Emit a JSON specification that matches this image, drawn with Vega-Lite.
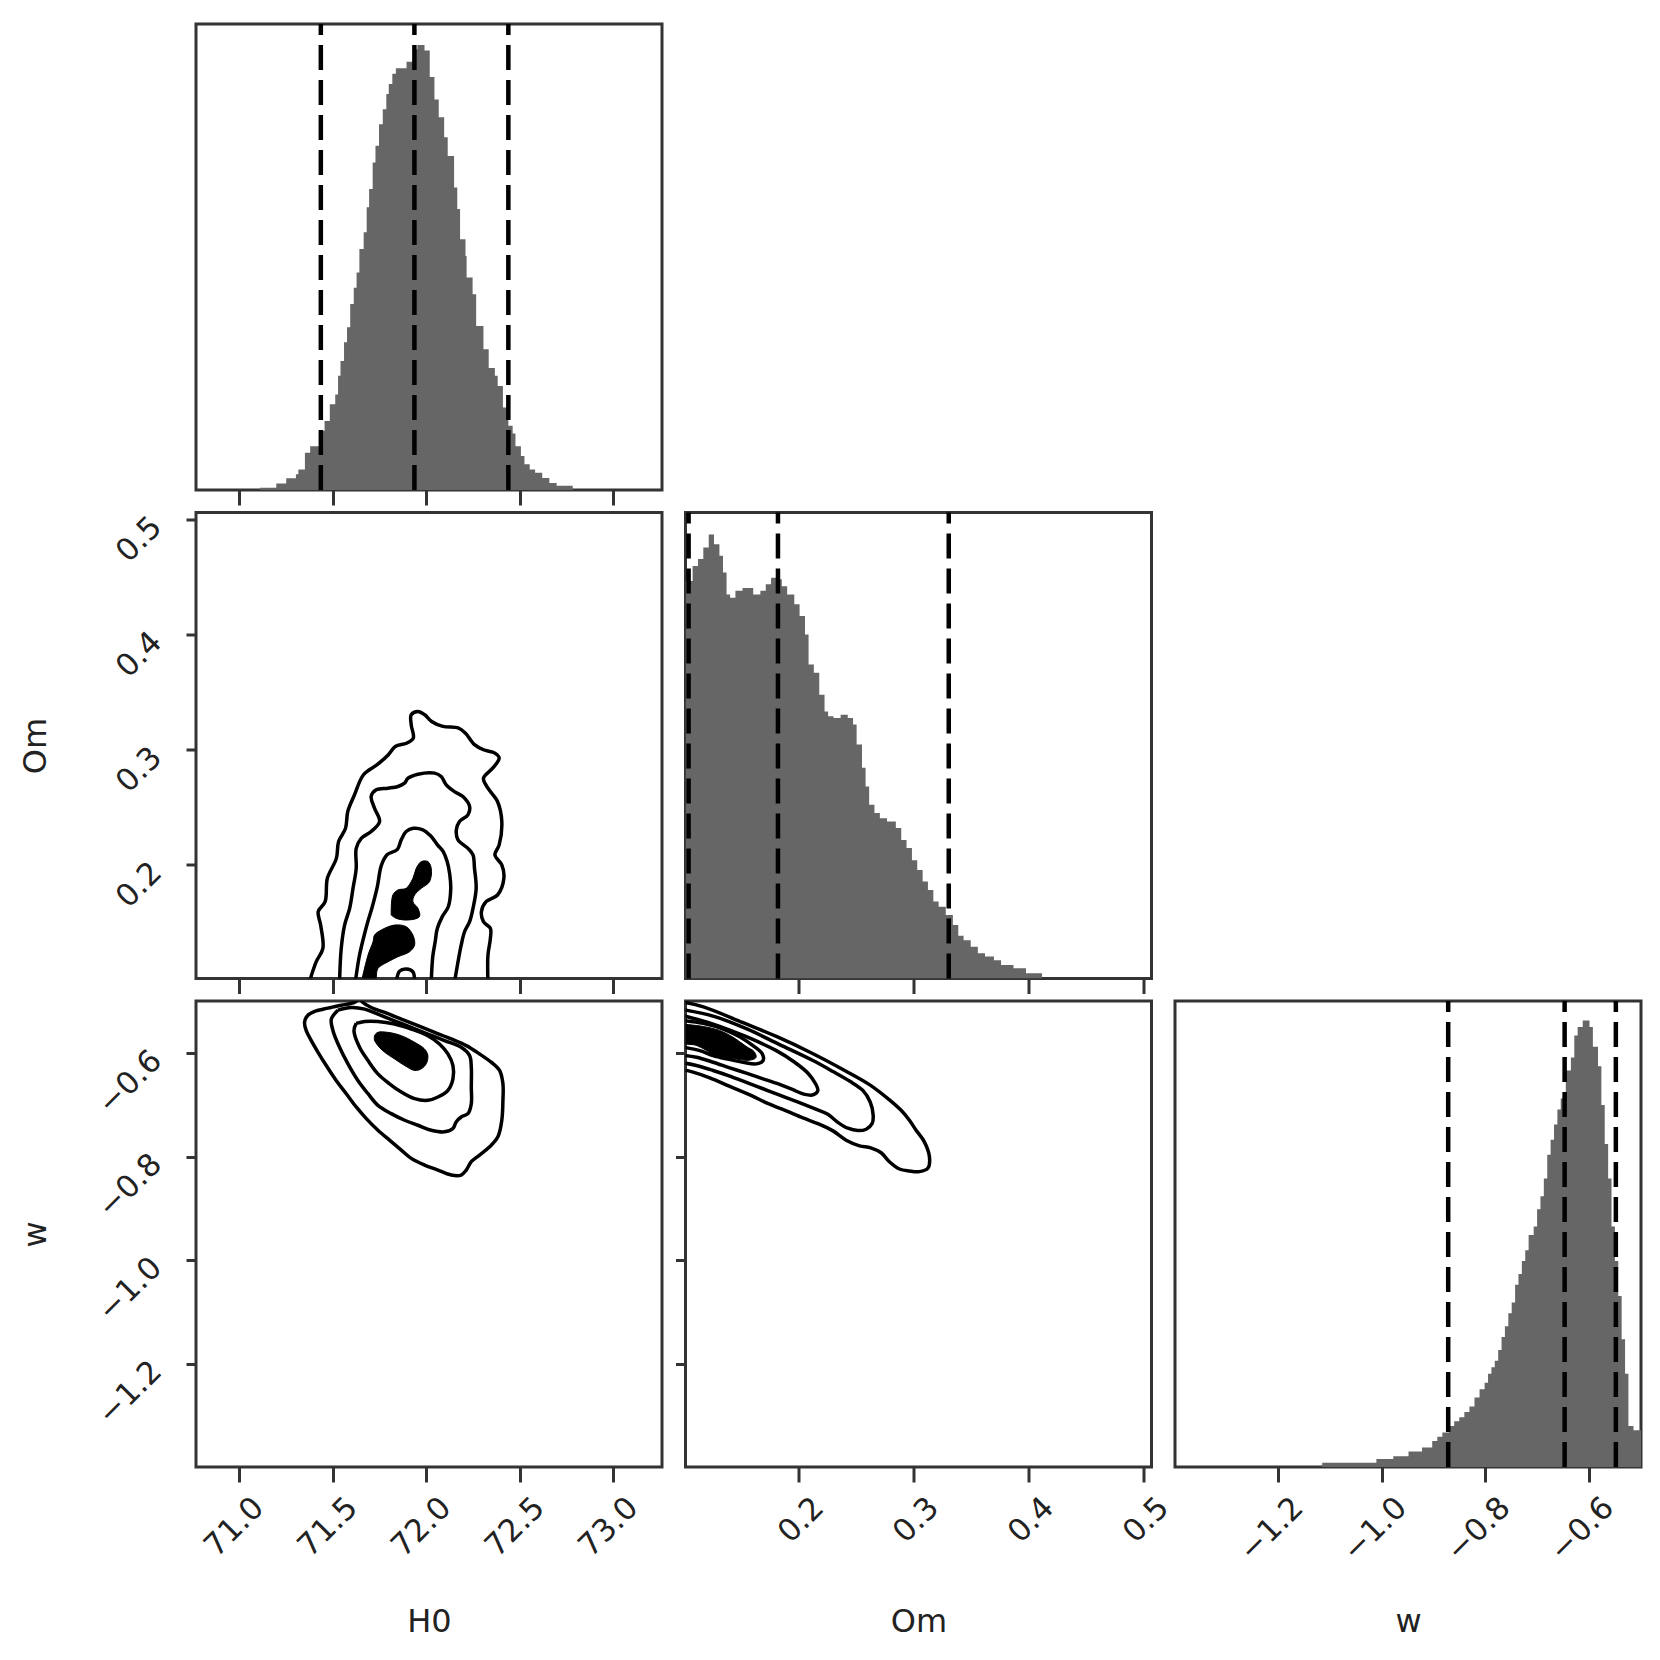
{
  "$schema": "https://vega.github.io/schema/vega-lite/v6.json",
  "padding": {"left": 17, "top": 20, "right": 5, "bottom": 5},
  "background": "white",
  "columns": 3,
  "spacing": {"row": 22.5, "column": 23.5},
  "bounds": "flush",
  "config": {
    "view": {"stroke": "#333", "strokeWidth": 3},
    "axis": {"grid": false, "domain": false, "tickColor": "#333", "tickWidth": 3, "labelFont": "DejaVu Sans", "labelFontSize": 31, "labelColor": "#222", "titleFont": "DejaVu Sans", "titleFontSize": 32, "titleColor": "#222", "titleFontWeight": "normal"}
  },
  "datasets": {
    "h0hist": [
      {"x":71.113,"h":0.005},{"x":71.199,"h":0.014},{"x":71.252,"h":0.025},{"x":71.304,"h":0.034},{"x":71.317,"h":0.044},{"x":71.352,"h":0.080},{"x":71.380,"h":0.094},{"x":71.428,"h":0.127},{"x":71.457,"h":0.148},{"x":71.485,"h":0.184},{"x":71.514,"h":0.205},{"x":71.529,"h":0.245},{"x":71.542,"h":0.277},{"x":71.561,"h":0.317},{"x":71.577,"h":0.349},{"x":71.594,"h":0.399},{"x":71.613,"h":0.434},{"x":71.628,"h":0.467},{"x":71.643,"h":0.517},{"x":71.666,"h":0.553},{"x":71.682,"h":0.607},{"x":71.695,"h":0.646},{"x":71.714,"h":0.703},{"x":71.729,"h":0.739},{"x":71.748,"h":0.785},{"x":71.768,"h":0.817},{"x":71.787,"h":0.850},{"x":71.800,"h":0.871},{"x":71.819,"h":0.893},{"x":71.838,"h":0.905},{"x":71.895,"h":0.919},{"x":71.934,"h":0.946},{"x":71.953,"h":0.955},{"x":71.991,"h":0.943},{"x":72.019,"h":0.886},{"x":72.044,"h":0.838},{"x":72.067,"h":0.800},{"x":72.096,"h":0.757},{"x":72.115,"h":0.717},{"x":72.149,"h":0.649},{"x":72.166,"h":0.603},{"x":72.181,"h":0.538},{"x":72.210,"h":0.502},{"x":72.216,"h":0.456},{"x":72.248,"h":0.420},{"x":72.267,"h":0.352},{"x":72.306,"h":0.302},{"x":72.334,"h":0.262},{"x":72.367,"h":0.245},{"x":72.382,"h":0.223},{"x":72.410,"h":0.177},{"x":72.439,"h":0.138},{"x":72.462,"h":0.121},{"x":72.477,"h":0.094},{"x":72.506,"h":0.073},{"x":72.525,"h":0.055},{"x":72.553,"h":0.044},{"x":72.582,"h":0.037},{"x":72.620,"h":0.026},{"x":72.658,"h":0.015},{"x":72.697,"h":0.009},{"x":72.783,"h":0}
    ],
    "h0q": [{"x":71.437},{"x":71.937},{"x":72.439}],
    "omhist": [
      {"x":0.1014,"h":0.853},{"x":0.1076,"h":0.885},{"x":0.1123,"h":0.900},{"x":0.1169,"h":0.925},{"x":0.1216,"h":0.953},{"x":0.1262,"h":0.932},{"x":0.1309,"h":0.907},{"x":0.1340,"h":0.871},{"x":0.1371,"h":0.824},{"x":0.1402,"h":0.817},{"x":0.1448,"h":0.832},{"x":0.1510,"h":0.838},{"x":0.1603,"h":0.824},{"x":0.1665,"h":0.832},{"x":0.1712,"h":0.846},{"x":0.1758,"h":0.860},{"x":0.1805,"h":0.857},{"x":0.1851,"h":0.842},{"x":0.1898,"h":0.824},{"x":0.1960,"h":0.803},{"x":0.2006,"h":0.778},{"x":0.2053,"h":0.738},{"x":0.2084,"h":0.674},{"x":0.2130,"h":0.656},{"x":0.2177,"h":0.609},{"x":0.2223,"h":0.573},{"x":0.2254,"h":0.563},{"x":0.2301,"h":0.559},{"x":0.2363,"h":0.566},{"x":0.2425,"h":0.559},{"x":0.2471,"h":0.545},{"x":0.2502,"h":0.502},{"x":0.2549,"h":0.452},{"x":0.2580,"h":0.412},{"x":0.2611,"h":0.373},{"x":0.2657,"h":0.355},{"x":0.2704,"h":0.344},{"x":0.2766,"h":0.337},{"x":0.2843,"h":0.323},{"x":0.2890,"h":0.297},{"x":0.2936,"h":0.280},{"x":0.2983,"h":0.254},{"x":0.3029,"h":0.233},{"x":0.3076,"h":0.208},{"x":0.3122,"h":0.190},{"x":0.3169,"h":0.165},{"x":0.3215,"h":0.154},{"x":0.3277,"h":0.136},{"x":0.3339,"h":0.115},{"x":0.3386,"h":0.092},{"x":0.3432,"h":0.082},{"x":0.3494,"h":0.068},{"x":0.3556,"h":0.054},{"x":0.3618,"h":0.047},{"x":0.3696,"h":0.039},{"x":0.3758,"h":0.029},{"x":0.3866,"h":0.022},{"x":0.3975,"h":0.011},{"x":0.4114,"h":0}
    ],
    "omq": [{"x":0.1041},{"x":0.1818},{"x":0.3303}],
    "whist": [
      {"x":-1.1155,"h":0.009},{"x":-1.0108,"h":0.017},{"x":-0.9781,"h":0.023},{"x":-0.9487,"h":0.033},{"x":-0.9226,"h":0.042},{"x":-0.9029,"h":0.056},{"x":-0.8931,"h":0.065},{"x":-0.8833,"h":0.074},{"x":-0.8702,"h":0.088},{"x":-0.8604,"h":0.098},{"x":-0.8506,"h":0.107},{"x":-0.8408,"h":0.118},{"x":-0.8310,"h":0.130},{"x":-0.8212,"h":0.149},{"x":-0.8114,"h":0.167},{"x":-0.8016,"h":0.181},{"x":-0.7950,"h":0.200},{"x":-0.7885,"h":0.214},{"x":-0.7820,"h":0.228},{"x":-0.7754,"h":0.251},{"x":-0.7689,"h":0.279},{"x":-0.7624,"h":0.302},{"x":-0.7558,"h":0.330},{"x":-0.7493,"h":0.353},{"x":-0.7427,"h":0.391},{"x":-0.7362,"h":0.414},{"x":-0.7297,"h":0.442},{"x":-0.7231,"h":0.465},{"x":-0.7166,"h":0.498},{"x":-0.7068,"h":0.516},{"x":-0.7002,"h":0.553},{"x":-0.6937,"h":0.581},{"x":-0.6872,"h":0.619},{"x":-0.6806,"h":0.670},{"x":-0.6741,"h":0.702},{"x":-0.6675,"h":0.735},{"x":-0.6610,"h":0.767},{"x":-0.6545,"h":0.791},{"x":-0.6447,"h":0.851},{"x":-0.6349,"h":0.879},{"x":-0.6283,"h":0.926},{"x":-0.6218,"h":0.944},{"x":-0.6120,"h":0.958},{"x":-0.5989,"h":0.944},{"x":-0.5924,"h":0.902},{"x":-0.5825,"h":0.860},{"x":-0.5760,"h":0.777},{"x":-0.5695,"h":0.693},{"x":-0.5629,"h":0.619},{"x":-0.5564,"h":0.516},{"x":-0.5498,"h":0.442},{"x":-0.5433,"h":0.367},{"x":-0.5368,"h":0.274},{"x":-0.5302,"h":0.200},{"x":-0.5237,"h":0.088},{"x":-0.5139,"h":0.079},{"x":-0.4990,"h":0.079}
    ],
    "wq": [{"x":-0.872},{"x":-0.647},{"x":-0.548}],
    "h0om": [
      {"c":"a","i":1,"x":71.375,"y":0.098},{"c":"a","i":2,"x":71.412,"y":0.1159},{"c":"a","i":3,"x":71.448,"y":0.1275},{"c":"a","i":4,"x":71.436,"y":0.1478},{"c":"a","i":5,"x":71.423,"y":0.1594},{"c":"a","i":6,"x":71.460,"y":0.1681},{"c":"a","i":7,"x":71.472,"y":0.1884},{"c":"a","i":8,"x":71.520,"y":0.2057},{"c":"a","i":9,"x":71.532,"y":0.2203},{"c":"a","i":10,"x":71.569,"y":0.2318},{"c":"a","i":11,"x":71.581,"y":0.2464},{"c":"a","i":12,"x":71.617,"y":0.2609},{"c":"a","i":13,"x":71.665,"y":0.2783},{"c":"a","i":14,"x":71.738,"y":0.2870},{"c":"a","i":15,"x":71.798,"y":0.2957},{"c":"a","i":16,"x":71.835,"y":0.3029},{"c":"a","i":17,"x":71.895,"y":0.3057},{"c":"a","i":18,"x":71.931,"y":0.3101},{"c":"a","i":19,"x":71.920,"y":0.3217},{"c":"a","i":20,"x":71.920,"y":0.3304},{"c":"a","i":21,"x":71.956,"y":0.3333},{"c":"a","i":22,"x":71.992,"y":0.3304},{"c":"a","i":23,"x":72.029,"y":0.3246},{"c":"a","i":24,"x":72.089,"y":0.3203},{"c":"a","i":25,"x":72.173,"y":0.3188},{"c":"a","i":26,"x":72.210,"y":0.3144},{"c":"a","i":27,"x":72.258,"y":0.3044},{"c":"a","i":28,"x":72.306,"y":0.3000},{"c":"a","i":29,"x":72.367,"y":0.2971},{"c":"a","i":30,"x":72.390,"y":0.2927},{"c":"a","i":31,"x":72.355,"y":0.2840},{"c":"a","i":32,"x":72.306,"y":0.2753},{"c":"a","i":33,"x":72.330,"y":0.2666},{"c":"a","i":34,"x":72.381,"y":0.2551},{"c":"a","i":35,"x":72.404,"y":0.2377},{"c":"a","i":36,"x":72.390,"y":0.2174},{"c":"a","i":37,"x":72.367,"y":0.2087},{"c":"a","i":38,"x":72.404,"y":0.2000},{"c":"a","i":39,"x":72.415,"y":0.1884},{"c":"a","i":40,"x":72.381,"y":0.1739},{"c":"a","i":41,"x":72.320,"y":0.1681},{"c":"a","i":42,"x":72.295,"y":0.1594},{"c":"a","i":43,"x":72.306,"y":0.1507},{"c":"a","i":44,"x":72.343,"y":0.1449},{"c":"a","i":45,"x":72.343,"y":0.1362},{"c":"a","i":46,"x":72.330,"y":0.1217},{"c":"a","i":47,"x":72.330,"y":0.098},
      {"c":"b","i":1,"x":71.537,"y":0.098},{"c":"b","i":2,"x":71.546,"y":0.1275},{"c":"b","i":3,"x":71.564,"y":0.1478},{"c":"b","i":4,"x":71.591,"y":0.1623},{"c":"b","i":5,"x":71.609,"y":0.1797},{"c":"b","i":6,"x":71.626,"y":0.1971},{"c":"b","i":7,"x":71.626,"y":0.2144},{"c":"b","i":8,"x":71.653,"y":0.2231},{"c":"b","i":9,"x":71.706,"y":0.2290},{"c":"b","i":10,"x":71.751,"y":0.2377},{"c":"b","i":11,"x":71.724,"y":0.2492},{"c":"b","i":12,"x":71.706,"y":0.2594},{"c":"b","i":13,"x":71.733,"y":0.2652},{"c":"b","i":14,"x":71.796,"y":0.2666},{"c":"b","i":15,"x":71.849,"y":0.2681},{"c":"b","i":16,"x":71.884,"y":0.2710},{"c":"b","i":17,"x":71.903,"y":0.2753},{"c":"b","i":18,"x":71.956,"y":0.2788},{"c":"b","i":19,"x":72.045,"y":0.2797},{"c":"b","i":20,"x":72.080,"y":0.2768},{"c":"b","i":21,"x":72.107,"y":0.2696},{"c":"b","i":22,"x":72.151,"y":0.2637},{"c":"b","i":23,"x":72.196,"y":0.2594},{"c":"b","i":24,"x":72.232,"y":0.2507},{"c":"b","i":25,"x":72.223,"y":0.2435},{"c":"b","i":26,"x":72.178,"y":0.2377},{"c":"b","i":27,"x":72.161,"y":0.2304},{"c":"b","i":28,"x":72.170,"y":0.2217},{"c":"b","i":29,"x":72.223,"y":0.2144},{"c":"b","i":30,"x":72.250,"y":0.2087},{"c":"b","i":31,"x":72.258,"y":0.1971},{"c":"b","i":32,"x":72.267,"y":0.1797},{"c":"b","i":33,"x":72.250,"y":0.1623},{"c":"b","i":34,"x":72.232,"y":0.1507},{"c":"b","i":35,"x":72.205,"y":0.1420},{"c":"b","i":36,"x":72.187,"y":0.1304},{"c":"b","i":37,"x":72.170,"y":0.1159},{"c":"b","i":38,"x":72.151,"y":0.098},
      {"c":"c","i":1,"x":71.621,"y":0.098},{"c":"c","i":2,"x":71.642,"y":0.1203},{"c":"c","i":3,"x":71.664,"y":0.1359},{"c":"c","i":4,"x":71.685,"y":0.1490},{"c":"c","i":5,"x":71.712,"y":0.1637},{"c":"c","i":6,"x":71.739,"y":0.1811},{"c":"c","i":7,"x":71.760,"y":0.1994},{"c":"c","i":8,"x":71.792,"y":0.2090},{"c":"c","i":9,"x":71.845,"y":0.2133},{"c":"c","i":10,"x":71.867,"y":0.2220},{"c":"c","i":11,"x":71.893,"y":0.2290},{"c":"c","i":12,"x":71.931,"y":0.2318},{"c":"c","i":13,"x":71.979,"y":0.2307},{"c":"c","i":14,"x":72.022,"y":0.2255},{"c":"c","i":15,"x":72.059,"y":0.2177},{"c":"c","i":16,"x":72.091,"y":0.2116},{"c":"c","i":17,"x":72.112,"y":0.2029},{"c":"c","i":18,"x":72.126,"y":0.1916},{"c":"c","i":19,"x":72.131,"y":0.1785},{"c":"c","i":20,"x":72.118,"y":0.1637},{"c":"c","i":21,"x":72.086,"y":0.1551},{"c":"c","i":22,"x":72.059,"y":0.1446},{"c":"c","i":23,"x":72.048,"y":0.1333},{"c":"c","i":24,"x":72.035,"y":0.1203},{"c":"c","i":25,"x":72.027,"y":0.098},
      {"c":"d","i":1,"x":71.840,"y":0.098},{"c":"d","i":2,"x":71.858,"y":0.1078},{"c":"d","i":3,"x":71.893,"y":0.1096},{"c":"d","i":4,"x":71.929,"y":0.1072},{"c":"d","i":5,"x":71.938,"y":0.098}
    ],
    "h0omf": [
      {"c":"p","i":1,"x":71.653,"y":0.098},{"c":"p","i":2,"x":71.689,"y":0.1217},{"c":"p","i":3,"x":71.716,"y":0.1333},{"c":"p","i":4,"x":71.724,"y":0.1391},{"c":"p","i":5,"x":71.760,"y":0.1435},{"c":"p","i":6,"x":71.831,"y":0.1478},{"c":"p","i":7,"x":71.893,"y":0.1464},{"c":"p","i":8,"x":71.929,"y":0.1391},{"c":"p","i":9,"x":71.938,"y":0.1304},{"c":"p","i":10,"x":71.911,"y":0.1246},{"c":"p","i":11,"x":71.849,"y":0.1203},{"c":"p","i":12,"x":71.796,"y":0.1159},{"c":"p","i":13,"x":71.742,"y":0.1101},{"c":"p","i":14,"x":71.724,"y":0.098},{"c":"p","i":15,"x":71.653,"y":0.098},
      {"c":"q","i":1,"x":71.813,"y":0.1565},{"c":"q","i":2,"x":71.822,"y":0.1739},{"c":"q","i":3,"x":71.849,"y":0.1783},{"c":"q","i":4,"x":71.893,"y":0.1797},{"c":"q","i":5,"x":71.929,"y":0.1884},{"c":"q","i":6,"x":71.947,"y":0.1971},{"c":"q","i":7,"x":71.974,"y":0.2029},{"c":"q","i":8,"x":72.009,"y":0.2029},{"c":"q","i":9,"x":72.027,"y":0.1971},{"c":"q","i":10,"x":72.018,"y":0.1855},{"c":"q","i":11,"x":71.974,"y":0.1797},{"c":"q","i":12,"x":71.938,"y":0.1739},{"c":"q","i":13,"x":71.929,"y":0.1681},{"c":"q","i":14,"x":71.956,"y":0.1623},{"c":"q","i":15,"x":71.964,"y":0.1551},{"c":"q","i":16,"x":71.903,"y":0.1522},{"c":"q","i":17,"x":71.840,"y":0.1536},{"c":"q","i":18,"x":71.813,"y":0.1565}
    ],
    "h0w": [
      {"c":"a","i":1,"x":71.644,"y":-0.494},{"c":"a","i":2,"x":71.617,"y":-0.502},{"c":"a","i":3,"x":71.546,"y":-0.5075},{"c":"a","i":4,"x":71.475,"y":-0.5132},{"c":"a","i":5,"x":71.404,"y":-0.5196},{"c":"a","i":6,"x":71.365,"y":-0.5280},{"c":"a","i":7,"x":71.350,"y":-0.5408},{"c":"a","i":8,"x":71.359,"y":-0.5568},{"c":"a","i":9,"x":71.386,"y":-0.5760},{"c":"a","i":10,"x":71.422,"y":-0.5985},{"c":"a","i":11,"x":71.466,"y":-0.6241},{"c":"a","i":12,"x":71.519,"y":-0.6530},{"c":"a","i":13,"x":71.573,"y":-0.6786},{"c":"a","i":14,"x":71.626,"y":-0.7042},{"c":"a","i":15,"x":71.680,"y":-0.7267},{"c":"a","i":16,"x":71.742,"y":-0.7491},{"c":"a","i":17,"x":71.804,"y":-0.7684},{"c":"a","i":18,"x":71.867,"y":-0.7876},{"c":"a","i":19,"x":71.920,"y":-0.8036},{"c":"a","i":20,"x":71.991,"y":-0.8164},{"c":"a","i":21,"x":72.063,"y":-0.8261},{"c":"a","i":22,"x":72.134,"y":-0.8357},{"c":"a","i":23,"x":72.187,"y":-0.8357},{"c":"a","i":24,"x":72.214,"y":-0.8261},{"c":"a","i":25,"x":72.241,"y":-0.8100},{"c":"a","i":26,"x":72.285,"y":-0.7972},{"c":"a","i":27,"x":72.339,"y":-0.7812},{"c":"a","i":28,"x":72.383,"y":-0.7619},{"c":"a","i":29,"x":72.404,"y":-0.7299},{"c":"a","i":30,"x":72.410,"y":-0.6914},{"c":"a","i":31,"x":72.410,"y":-0.6594},{"c":"a","i":32,"x":72.392,"y":-0.6337},{"c":"a","i":33,"x":72.347,"y":-0.6177},{"c":"a","i":34,"x":72.285,"y":-0.6017},{"c":"a","i":35,"x":72.214,"y":-0.5857},{"c":"a","i":36,"x":72.134,"y":-0.5728},{"c":"a","i":37,"x":72.045,"y":-0.5600},{"c":"a","i":38,"x":71.956,"y":-0.5472},{"c":"a","i":39,"x":71.867,"y":-0.5344},{"c":"a","i":40,"x":71.778,"y":-0.5216},{"c":"a","i":41,"x":71.706,"y":-0.5119},{"c":"a","i":42,"x":71.662,"y":-0.5023},{"c":"a","i":43,"x":71.644,"y":-0.494},
      {"c":"b","i":1,"x":71.528,"y":-0.5171},{"c":"b","i":2,"x":71.493,"y":-0.5344},{"c":"b","i":3,"x":71.502,"y":-0.5568},{"c":"b","i":4,"x":71.537,"y":-0.5889},{"c":"b","i":5,"x":71.582,"y":-0.6209},{"c":"b","i":6,"x":71.635,"y":-0.6530},{"c":"b","i":7,"x":71.689,"y":-0.6786},{"c":"b","i":8,"x":71.742,"y":-0.7010},{"c":"b","i":9,"x":71.813,"y":-0.7171},{"c":"b","i":10,"x":71.885,"y":-0.7299},{"c":"b","i":11,"x":71.956,"y":-0.7395},{"c":"b","i":12,"x":72.027,"y":-0.7491},{"c":"b","i":13,"x":72.098,"y":-0.7523},{"c":"b","i":14,"x":72.143,"y":-0.7459},{"c":"b","i":15,"x":72.160,"y":-0.7331},{"c":"b","i":16,"x":72.187,"y":-0.7235},{"c":"b","i":17,"x":72.223,"y":-0.7171},{"c":"b","i":18,"x":72.241,"y":-0.6978},{"c":"b","i":19,"x":72.241,"y":-0.6658},{"c":"b","i":20,"x":72.241,"y":-0.6273},{"c":"b","i":21,"x":72.232,"y":-0.6049},{"c":"b","i":22,"x":72.187,"y":-0.5889},{"c":"b","i":23,"x":72.098,"y":-0.5760},{"c":"b","i":24,"x":72.009,"y":-0.5632},{"c":"b","i":25,"x":71.920,"y":-0.5504},{"c":"b","i":26,"x":71.831,"y":-0.5376},{"c":"b","i":27,"x":71.742,"y":-0.5248},{"c":"b","i":28,"x":71.671,"y":-0.5151},{"c":"b","i":29,"x":71.600,"y":-0.5119},{"c":"b","i":30,"x":71.528,"y":-0.5171},
      {"c":"c","i":1,"x":71.626,"y":-0.5427},{"c":"c","i":2,"x":71.614,"y":-0.5568},{"c":"c","i":3,"x":71.644,"y":-0.5889},{"c":"c","i":4,"x":71.689,"y":-0.6145},{"c":"c","i":5,"x":71.742,"y":-0.6402},{"c":"c","i":6,"x":71.804,"y":-0.6594},{"c":"c","i":7,"x":71.867,"y":-0.6754},{"c":"c","i":8,"x":71.938,"y":-0.6882},{"c":"c","i":9,"x":72.009,"y":-0.6914},{"c":"c","i":10,"x":72.063,"y":-0.6850},{"c":"c","i":11,"x":72.116,"y":-0.6722},{"c":"c","i":12,"x":72.143,"y":-0.6498},{"c":"c","i":13,"x":72.143,"y":-0.6241},{"c":"c","i":14,"x":72.116,"y":-0.6017},{"c":"c","i":15,"x":72.071,"y":-0.5825},{"c":"c","i":16,"x":72.009,"y":-0.5664},{"c":"c","i":17,"x":71.920,"y":-0.5536},{"c":"c","i":18,"x":71.831,"y":-0.5440},{"c":"c","i":19,"x":71.742,"y":-0.5389},{"c":"c","i":20,"x":71.671,"y":-0.5389},{"c":"c","i":21,"x":71.626,"y":-0.5427}
    ],
    "h0wf": [
      {"c":"f","i":1,"x":71.724,"y":-0.5760},{"c":"f","i":2,"x":71.724,"y":-0.5664},{"c":"f","i":3,"x":71.742,"y":-0.5600},{"c":"f","i":4,"x":71.795,"y":-0.5600},{"c":"f","i":5,"x":71.867,"y":-0.5664},{"c":"f","i":6,"x":71.938,"y":-0.5792},{"c":"f","i":7,"x":71.991,"y":-0.5921},{"c":"f","i":8,"x":72.009,"y":-0.6049},{"c":"f","i":9,"x":72.000,"y":-0.6209},{"c":"f","i":10,"x":71.974,"y":-0.6305},{"c":"f","i":11,"x":71.938,"y":-0.6337},{"c":"f","i":12,"x":71.885,"y":-0.6241},{"c":"f","i":13,"x":71.831,"y":-0.6113},{"c":"f","i":14,"x":71.778,"y":-0.5985},{"c":"f","i":15,"x":71.742,"y":-0.5857},{"c":"f","i":16,"x":71.724,"y":-0.5760}
    ],
    "omw": [
      {"c":"a","i":1,"x":0.0965,"y":-0.5004},{"c":"a","i":2,"x":0.1170,"y":-0.5107},{"c":"a","i":3,"x":0.1514,"y":-0.5414},{"c":"a","i":4,"x":0.1809,"y":-0.5684},{"c":"a","i":5,"x":0.2110,"y":-0.5998},{"c":"a","i":6,"x":0.2394,"y":-0.6331},{"c":"a","i":7,"x":0.2620,"y":-0.6619},{"c":"a","i":8,"x":0.2782,"y":-0.6895},{"c":"a","i":9,"x":0.2889,"y":-0.7107},{"c":"a","i":10,"x":0.2961,"y":-0.7299},{"c":"a","i":11,"x":0.3019,"y":-0.7491},{"c":"a","i":12,"x":0.3091,"y":-0.7716},{"c":"a","i":13,"x":0.3135,"y":-0.8004},{"c":"a","i":14,"x":0.3123,"y":-0.8222},{"c":"a","i":15,"x":0.3048,"y":-0.8292},{"c":"a","i":16,"x":0.2961,"y":-0.8280},{"c":"a","i":17,"x":0.2874,"y":-0.8241},{"c":"a","i":18,"x":0.2787,"y":-0.8100},{"c":"a","i":19,"x":0.2715,"y":-0.7927},{"c":"a","i":20,"x":0.2625,"y":-0.7831},{"c":"a","i":21,"x":0.2527,"y":-0.7793},{"c":"a","i":22,"x":0.2411,"y":-0.7684},{"c":"a","i":23,"x":0.2296,"y":-0.7504},{"c":"a","i":24,"x":0.2171,"y":-0.7369},{"c":"a","i":25,"x":0.2035,"y":-0.7254},{"c":"a","i":26,"x":0.1885,"y":-0.7113},{"c":"a","i":27,"x":0.1734,"y":-0.6978},{"c":"a","i":28,"x":0.1584,"y":-0.6818},{"c":"a","i":29,"x":0.1399,"y":-0.6645},{"c":"a","i":30,"x":0.1225,"y":-0.6478},{"c":"a","i":31,"x":0.1080,"y":-0.6369},{"c":"a","i":32,"x":0.0965,"y":-0.6305},
      {"c":"b","i":1,"x":0.0965,"y":-0.5151},{"c":"b","i":2,"x":0.1254,"y":-0.5286},{"c":"b","i":3,"x":0.1543,"y":-0.5530},{"c":"b","i":4,"x":0.1833,"y":-0.5837},{"c":"b","i":5,"x":0.2122,"y":-0.6145},{"c":"b","i":6,"x":0.2296,"y":-0.6357},{"c":"b","i":7,"x":0.2440,"y":-0.6542},{"c":"b","i":8,"x":0.2556,"y":-0.6722},{"c":"b","i":9,"x":0.2620,"y":-0.6946},{"c":"b","i":10,"x":0.2646,"y":-0.7203},{"c":"b","i":11,"x":0.2637,"y":-0.7363},{"c":"b","i":12,"x":0.2585,"y":-0.7472},{"c":"b","i":13,"x":0.2513,"y":-0.7498},{"c":"b","i":14,"x":0.2426,"y":-0.7453},{"c":"b","i":15,"x":0.2342,"y":-0.7344},{"c":"b","i":16,"x":0.2252,"y":-0.7184},{"c":"b","i":17,"x":0.2136,"y":-0.7075},{"c":"b","i":18,"x":0.1977,"y":-0.6934},{"c":"b","i":19,"x":0.1833,"y":-0.6812},{"c":"b","i":20,"x":0.1688,"y":-0.6690},{"c":"b","i":21,"x":0.1543,"y":-0.6568},{"c":"b","i":22,"x":0.1399,"y":-0.6446},{"c":"b","i":23,"x":0.1254,"y":-0.6337},{"c":"b","i":24,"x":0.1109,"y":-0.6241},{"c":"b","i":25,"x":0.0965,"y":-0.6177},
      {"c":"c","i":1,"x":0.0965,"y":-0.5260},{"c":"c","i":2,"x":0.1254,"y":-0.5440},{"c":"c","i":3,"x":0.1543,"y":-0.5684},{"c":"c","i":4,"x":0.1804,"y":-0.5953},{"c":"c","i":5,"x":0.1963,"y":-0.6177},{"c":"c","i":6,"x":0.2079,"y":-0.6389},{"c":"c","i":7,"x":0.2145,"y":-0.6594},{"c":"c","i":8,"x":0.2165,"y":-0.6722},{"c":"c","i":9,"x":0.2128,"y":-0.6805},{"c":"c","i":10,"x":0.2050,"y":-0.6799},{"c":"c","i":11,"x":0.1948,"y":-0.6709},{"c":"c","i":12,"x":0.1833,"y":-0.6607},{"c":"c","i":13,"x":0.1688,"y":-0.6498},{"c":"c","i":14,"x":0.1543,"y":-0.6389},{"c":"c","i":15,"x":0.1399,"y":-0.6286},{"c":"c","i":16,"x":0.1254,"y":-0.6177},{"c":"c","i":17,"x":0.1109,"y":-0.6081},{"c":"c","i":18,"x":0.0965,"y":-0.6036},
      {"c":"d","i":1,"x":0.0965,"y":-0.5363},{"c":"d","i":2,"x":0.1167,"y":-0.5427},{"c":"d","i":3,"x":0.1341,"y":-0.5536},{"c":"d","i":4,"x":0.1485,"y":-0.5684},{"c":"d","i":5,"x":0.1601,"y":-0.5857},{"c":"d","i":6,"x":0.1682,"y":-0.6017},{"c":"d","i":7,"x":0.1688,"y":-0.6145},{"c":"d","i":8,"x":0.1630,"y":-0.6209},{"c":"d","i":9,"x":0.1514,"y":-0.6177},{"c":"d","i":10,"x":0.1370,"y":-0.6113},{"c":"d","i":11,"x":0.1254,"y":-0.6049},{"c":"d","i":12,"x":0.1138,"y":-0.5953},{"c":"d","i":13,"x":0.0965,"y":-0.5876}
    ],
    "omwf": [
      {"c":"f","i":1,"x":0.0965,"y":-0.5434},{"c":"f","i":2,"x":0.1164,"y":-0.5485},{"c":"f","i":3,"x":0.1309,"y":-0.5562},{"c":"f","i":4,"x":0.1425,"y":-0.5690},{"c":"f","i":5,"x":0.1540,"y":-0.5869},{"c":"f","i":6,"x":0.1613,"y":-0.5978},{"c":"f","i":7,"x":0.1627,"y":-0.6087},{"c":"f","i":8,"x":0.1569,"y":-0.6139},{"c":"f","i":9,"x":0.1425,"y":-0.6107},{"c":"f","i":10,"x":0.1280,"y":-0.6062},{"c":"f","i":11,"x":0.1193,"y":-0.5946},{"c":"f","i":12,"x":0.1106,"y":-0.5850},{"c":"f","i":13,"x":0.0965,"y":-0.5786},{"c":"f","i":14,"x":0.0965,"y":-0.5434}
    ]
  },
  "concat": [
    {
      "width": 466, "height": 466,
      "encoding": {
        "x": {"field": "x", "type": "quantitative", "scale": {"domain": [70.77, 73.26], "nice": false, "zero": false},
              "axis": {"values": [71, 71.5, 72, 72.5, 73], "labels": false, "title": null, "tickSize": 15}}
      },
      "layer": [
        {"data": {"name": "h0hist"}, "mark": {"type": "area", "interpolate": "step-after", "color": "#666666", "clip": true},
         "encoding": {"y": {"field": "h", "type": "quantitative", "scale": {"domain": [0, 1], "nice": false}, "axis": null}}},
        {"data": {"name": "h0q"}, "mark": {"type": "rule", "color": "black", "strokeWidth": 4.5, "strokeDash": [25, 10]},
         "encoding": {"y": {"datum": 0, "scale": {"domain": [0, 1], "nice": false}, "axis": null}, "y2": {"datum": 1}}}
      ]
    },
    {"width": 466, "height": 466, "view": {"stroke": null}, "data": {"values": [{"a": 0}]}, "mark": {"type": "point", "opacity": 0}, "encoding": {}},
    {"width": 466, "height": 466, "view": {"stroke": null}, "data": {"values": [{"a": 0}]}, "mark": {"type": "point", "opacity": 0}, "encoding": {}},
    {
      "width": 466, "height": 466,
      "encoding": {
        "x": {"field": "x", "type": "quantitative", "scale": {"domain": [70.77, 73.26], "nice": false, "zero": false},
              "axis": {"values": [71, 71.5, 72, 72.5, 73], "labels": false, "title": null, "tickSize": 15}},
        "y": {"field": "y", "type": "quantitative", "scale": {"domain": [0.1014, 0.5060], "nice": false, "zero": false},
              "axis": {"values": [0.2, 0.3, 0.4, 0.5], "format": ".1f", "title": "Om", "tickSize": 10, "labelAngle": -45, "labelAlign": "right", "labelBaseline": "top", "labelPadding": 40, "labelOffset": -8, "labelOverlap": false, "labelFlush": false, "labelBound": false, "titleX": -151, "titleY": 233, "titleAngle": 270, "titleAlign": "center", "titleBaseline": "alphabetic"}}
      },
      "layer": [
        {"data": {"name": "h0om"}, "mark": {"type": "line", "color": "black", "strokeWidth": 3.5, "interpolate": "catmull-rom", "clip": true},
         "encoding": {"detail": {"field": "c"}, "order": {"field": "i", "type": "quantitative"}}},
        {"data": {"name": "h0omf"}, "mark": {"type": "line", "fill": "black", "stroke": "black", "strokeWidth": 1, "interpolate": "catmull-rom", "clip": true},
         "encoding": {"detail": {"field": "c"}, "order": {"field": "i", "type": "quantitative"}}}
      ]
    },
    {
      "width": 466, "height": 466,
      "encoding": {
        "x": {"field": "x", "type": "quantitative", "scale": {"domain": [0.1014, 0.5066], "nice": false, "zero": false},
              "axis": {"values": [0.2, 0.3, 0.4, 0.5], "labels": false, "title": null, "tickSize": 15}}
      },
      "layer": [
        {"data": {"name": "omhist"}, "mark": {"type": "area", "interpolate": "step-after", "color": "#666666", "clip": true},
         "encoding": {"y": {"field": "h", "type": "quantitative", "scale": {"domain": [0, 1], "nice": false}, "axis": null}}},
        {"data": {"name": "omq"}, "mark": {"type": "rule", "color": "black", "strokeWidth": 4.5, "strokeDash": [25, 10]},
         "encoding": {"y": {"datum": 0, "scale": {"domain": [0, 1], "nice": false}, "axis": null}, "y2": {"datum": 1}}}
      ]
    },
    {"width": 466, "height": 466, "view": {"stroke": null}, "data": {"values": [{"a": 0}]}, "mark": {"type": "point", "opacity": 0}, "encoding": {}},
    {
      "width": 466, "height": 466,
      "encoding": {
        "x": {"field": "x", "type": "quantitative", "scale": {"domain": [70.77, 73.26], "nice": false, "zero": false},
              "axis": {"values": [71, 71.5, 72, 72.5, 73], "format": ".1f", "title": "H0", "tickSize": 15, "labelAngle": -45, "labelAlign": "right", "labelBaseline": "top", "labelPadding": 10, "labelOffset": 9, "labelOverlap": false, "labelFlush": false, "labelBound": false, "titleX": 233, "titleY": 164, "titleAngle": 0, "titleAlign": "center", "titleBaseline": "alphabetic"}},
        "y": {"field": "y", "type": "quantitative", "scale": {"domain": [-1.4, -0.4994], "nice": false, "zero": false},
              "axis": {"values": [-1.2, -1.0, -0.8, -0.6], "format": ".1f", "title": "w", "tickSize": 10, "labelAngle": -45, "labelAlign": "right", "labelBaseline": "top", "labelPadding": 40, "labelOffset": -8, "labelOverlap": false, "labelFlush": false, "labelBound": false, "titleX": -151, "titleY": 233, "titleAngle": 270, "titleAlign": "center", "titleBaseline": "alphabetic"}}
      },
      "layer": [
        {"data": {"name": "h0w"}, "mark": {"type": "line", "color": "black", "strokeWidth": 3.5, "interpolate": "catmull-rom", "clip": true},
         "encoding": {"detail": {"field": "c"}, "order": {"field": "i", "type": "quantitative"}}},
        {"data": {"name": "h0wf"}, "mark": {"type": "line", "fill": "black", "stroke": "black", "strokeWidth": 1, "interpolate": "catmull-rom", "clip": true},
         "encoding": {"detail": {"field": "c"}, "order": {"field": "i", "type": "quantitative"}}}
      ]
    },
    {
      "width": 466, "height": 466,
      "encoding": {
        "x": {"field": "x", "type": "quantitative", "scale": {"domain": [0.1014, 0.5066], "nice": false, "zero": false},
              "axis": {"values": [0.2, 0.3, 0.4, 0.5], "format": ".1f", "title": "Om", "tickSize": 15, "labelAngle": -45, "labelAlign": "right", "labelBaseline": "top", "labelPadding": 10, "labelOffset": 9, "labelOverlap": false, "labelFlush": false, "labelBound": false, "titleX": 233, "titleY": 164, "titleAngle": 0, "titleAlign": "center", "titleBaseline": "alphabetic"}},
        "y": {"field": "y", "type": "quantitative", "scale": {"domain": [-1.4, -0.4994], "nice": false, "zero": false},
              "axis": {"values": [-1.2, -1.0, -0.8, -0.6], "labels": false, "title": null, "tickSize": 10}}
      },
      "layer": [
        {"data": {"name": "omw"}, "mark": {"type": "line", "color": "black", "strokeWidth": 3.5, "interpolate": "catmull-rom", "clip": true},
         "encoding": {"detail": {"field": "c"}, "order": {"field": "i", "type": "quantitative"}}},
        {"data": {"name": "omwf"}, "mark": {"type": "line", "fill": "black", "stroke": "black", "strokeWidth": 1, "interpolate": "catmull-rom", "clip": true},
         "encoding": {"detail": {"field": "c"}, "order": {"field": "i", "type": "quantitative"}}}
      ]
    },
    {
      "width": 466, "height": 466,
      "encoding": {
        "x": {"field": "x", "type": "quantitative", "scale": {"domain": [-1.4, -0.4994], "nice": false, "zero": false},
              "axis": {"values": [-1.2, -1.0, -0.8, -0.6], "format": ".1f", "title": "w", "tickSize": 15, "labelAngle": -45, "labelAlign": "right", "labelBaseline": "top", "labelPadding": 10, "labelOffset": 9, "labelOverlap": false, "labelFlush": false, "labelBound": false, "titleX": 233, "titleY": 164, "titleAngle": 0, "titleAlign": "center", "titleBaseline": "alphabetic"}}
      },
      "layer": [
        {"data": {"name": "whist"}, "mark": {"type": "area", "interpolate": "step-after", "color": "#666666", "clip": true},
         "encoding": {"y": {"field": "h", "type": "quantitative", "scale": {"domain": [0, 1], "nice": false}, "axis": null}}},
        {"data": {"name": "wq"}, "mark": {"type": "rule", "color": "black", "strokeWidth": 4.5, "strokeDash": [25, 10]},
         "encoding": {"y": {"datum": 0, "scale": {"domain": [0, 1], "nice": false}, "axis": null}, "y2": {"datum": 1}}}
      ]
    }
  ]
}
